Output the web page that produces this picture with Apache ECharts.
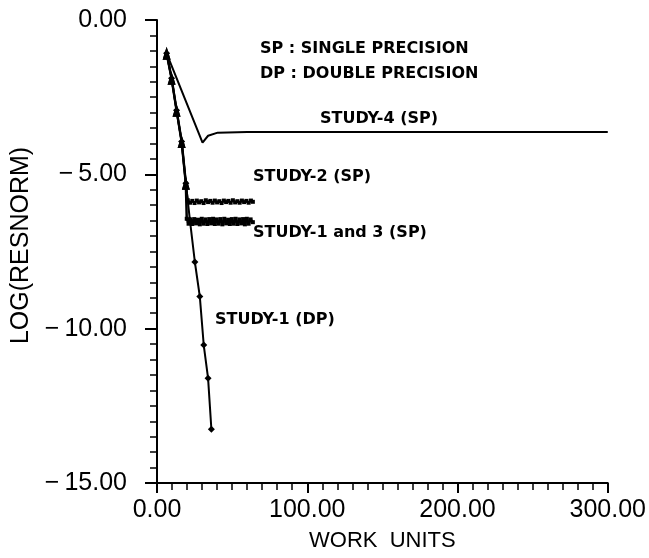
<!DOCTYPE html>
<html>
<head>
<meta charset="utf-8">
<script src="https://cdn.jsdelivr.net/npm/echarts@6/dist/echarts.min.js"></script>
<style>
  html, body { margin: 0; padding: 0; background: #fff; }
  #chart { width: 649px; height: 558px; }
</style>
</head>
<body>
<div id="chart"></div>
<script>
// Axis ticks
const xTicks = [0, 100, 200, 300];
const yTicks = [0, -5, -10, -15];

// Shared early descent (work units, log residual norm)
const descentX = [6.4, 9.7, 13.0, 16.4, 19.2];
const descentY = [-1.08, -1.89, -2.92, -3.94, -5.29];

// STUDY-1 (DP): continues down after the descent
const dpX = [21.9, 25.2, 28.5, 31.1, 34.0, 36.2];
const dpY = [-6.48, -7.84, -8.96, -10.53, -11.61, -13.26];

// STUDY-2 (SP): stalls after the descent
const s2X = [20.5, 22.0, 23.5, 25.0, 26.5, 28.0, 29.5, 31.0, 32.5, 34.0,
             35.5, 37.0, 38.5, 40.0, 41.5, 43.0, 44.5, 46.0, 47.5, 49.0,
             50.5, 52.0, 53.5, 55.0, 56.5, 58.0, 59.5, 61.0, 62.5, 63.8];
const s2Y = [-5.84, -5.92, -5.86, -5.93, -5.85, -5.91, -5.87, -5.93, -5.84, -5.90,
             -5.86, -5.92, -5.85, -5.91, -5.87, -5.93, -5.85, -5.90, -5.86, -5.92,
             -5.84, -5.91, -5.87, -5.92, -5.85, -5.90, -5.86, -5.92, -5.85, -5.89];

// STUDY-1 and 3 (SP): stalls a little lower
const s13X = [19.8, 21.0, 22.3, 23.5, 24.8, 26.0, 27.3, 28.5, 29.8, 31.0,
              32.3, 33.5, 34.8, 36.0, 37.3, 38.5, 39.8, 41.0, 42.3, 43.5,
              44.8, 46.0, 47.3, 48.5, 49.8, 51.0, 52.3, 53.5, 54.8, 56.0,
              57.3, 58.5, 59.8, 61.0, 62.3, 63.8];
const s13Y = [-6.44, -6.60, -6.46, -6.61, -6.45, -6.59, -6.47, -6.62, -6.44, -6.60,
              -6.46, -6.61, -6.45, -6.59, -6.44, -6.61, -6.46, -6.60, -6.45, -6.62,
              -6.44, -6.59, -6.47, -6.61, -6.45, -6.60, -6.44, -6.61, -6.46, -6.59,
              -6.45, -6.62, -6.44, -6.60, -6.46, -6.55];

// STUDY-4 (SP)
const s4X = [6.4, 30.3, 34.0, 40.4, 60.0, 300.0];
const s4Y = [-1.08, -3.97, -3.75, -3.65, -3.63, -3.63];

// Annotation texts
const noteTexts = ['SP : SINGLE PRECISION', 'DP : DOUBLE PRECISION', 'STUDY-4 (SP)',
                   'STUDY-2 (SP)', 'STUDY-1 and 3 (SP)', 'STUDY-1 (DP)'];

function pairs(xs, ys) { return xs.map((x, i) => [x, ys[i]]); }

const descent = pairs(descentX, descentY);
const nDescent = descent.length;

const chart = echarts.init(document.getElementById('chart'), null, { renderer: 'canvas' });

const FONT = 'Liberation Sans';
const NOTE_FONT = 'bold 16px "DejaVu Sans"';

// two decimals, long minus sign followed by a thin space
function fmt(v) {
  const s = Math.abs(v).toFixed(2);
  return v < 0 ? '\u2212\u2009' + s : s;
}

const baseLine = { color: '#000', width: 2 };

// descent points use arrow-like triangles, stalled points small squares
function spSymbol(value, params) { return params.dataIndex < nDescent ? 'triangle' : 'rect'; }
function spSize(value, params) { return params.dataIndex < nDescent ? [8, 13] : 4; }

// pixel anchors (left edge, vertical centre) for the annotation texts
const notePos = [[260, 50], [260, 75], [320, 120], [253, 178], [253, 234], [215, 321]];

chart.setOption({
  animation: false,
  backgroundColor: '#fff',
  grid: { left: 157, right: 39, top: 20, bottom: 75, containLabel: false },
  xAxis: {
    type: 'value',
    min: xTicks[0], max: xTicks[xTicks.length - 1], interval: 100,
    name: 'WORK  UNITS',
    nameLocation: 'middle',
    nameGap: 47,
    nameTextStyle: { fontFamily: FONT, fontSize: 22, color: '#000' },
    axisLine: { show: true, onZero: false, lineStyle: { color: '#000', width: 2 } },
    axisTick: { show: true, length: 10, lineStyle: { color: '#000', width: 2 } },
    minorTick: { show: true, splitNumber: 10, length: 7, lineStyle: { color: '#000', width: 1.5 } },
    splitLine: { show: false },
    axisLabel: { fontFamily: FONT, fontSize: 25, color: '#000', margin: 15,
                 formatter: fmt, showMinLabel: true, showMaxLabel: true }
  },
  yAxis: {
    type: 'value',
    min: yTicks[yTicks.length - 1], max: yTicks[0], interval: 5,
    name: 'LOG(RESNORM)',
    nameLocation: 'middle',
    nameGap: 120,
    nameTextStyle: { fontFamily: FONT, fontSize: 25, color: '#000', padding: [0, 0, 0, 12] },
    axisLine: { show: true, onZero: false, lineStyle: { color: '#000', width: 2 } },
    axisTick: { show: true, length: 12, lineStyle: { color: '#000', width: 2 } },
    minorTick: { show: true, splitNumber: 10, length: 7, lineStyle: { color: '#000', width: 1.5 } },
    splitLine: { show: false },
    axisLabel: { fontFamily: FONT, fontSize: 25, color: '#000', margin: 30,
                 formatter: fmt, showMinLabel: true, showMaxLabel: true }
  },
  series: [
    {
      name: 'STUDY-4 (SP)', type: 'line', data: pairs(s4X, s4Y),
      showSymbol: false, symbol: 'none', lineStyle: baseLine, z: 2
    },
    {
      name: 'STUDY-1 (DP)', type: 'line', data: descent.concat(pairs(dpX, dpY)),
      symbol: 'diamond', symbolSize: 7, itemStyle: { color: '#000' },
      lineStyle: baseLine, z: 3
    },
    {
      name: 'STUDY-2 (SP)', type: 'line', data: descent.concat(pairs(s2X, s2Y)),
      symbol: spSymbol, symbolSize: spSize, itemStyle: { color: '#000' },
      lineStyle: baseLine, z: 4
    },
    {
      name: 'STUDY-1 and 3 (SP)', type: 'line', data: descent.concat(pairs(s13X, s13Y)),
      symbol: spSymbol, symbolSize: spSize, itemStyle: { color: '#000' },
      lineStyle: { color: '#000', width: 2.5 }, z: 4
    }
  ],
  graphic: noteTexts.map((t, i) => ({
    type: 'text', left: notePos[i][0], top: notePos[i][1] - 9,
    style: { text: t, font: NOTE_FONT, fill: '#000' }
  }))
});
</script>
</body>
</html>
